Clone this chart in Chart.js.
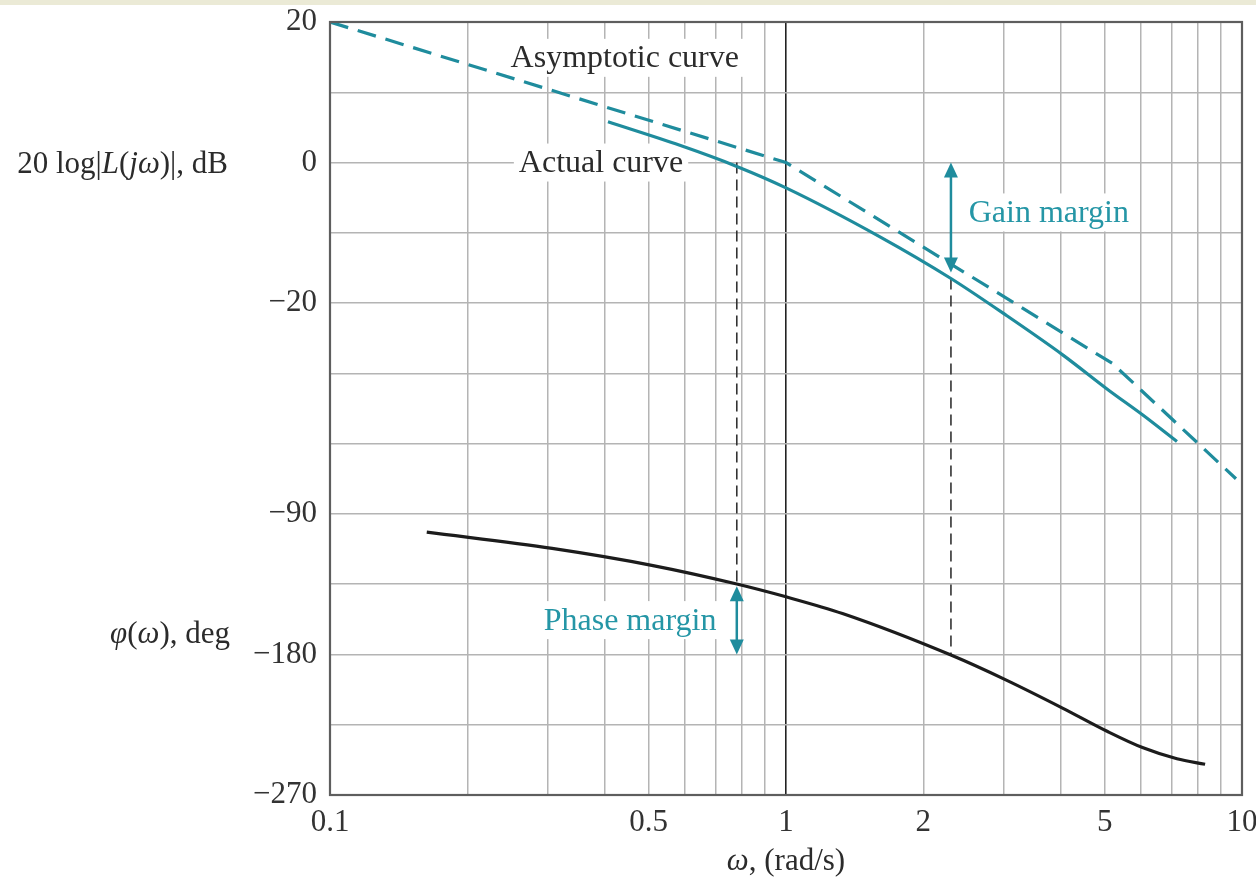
<!DOCTYPE html>
<html>
<head>
<meta charset="utf-8">
<script src="https://cdn.jsdelivr.net/npm/chart.js@4.4.1/dist/chart.umd.min.js"></script>
<style>
  html, body { margin: 0; padding: 0; background: #fff; }
  #band { position: absolute; left: 0; top: 0; width: 1256px; height: 5px; background: #ebead6; }
  #wrap { position: absolute; left: 0; top: 0; width: 1256px; height: 881px; }
</style>
</head>
<body>
<div id="wrap"><canvas id="bode" width="1256" height="881"></canvas></div>
<div id="band"></div>
<script>
// Bode diagram: magnitude (dB) and phase (deg) on one log frequency axis
const omegaAsym = [0.1, 1, 5.2, 9.7];
const dbAsym = [20, 0, -28.6, -45];

const omegaActual = [0.407, 0.585, 0.78, 1.0, 1.6, 2.3, 3.05, 4.05, 5.1, 6.05, 7.2];
const dbActual = [5.8, 2.45, -0.55, -3.6, -10.5, -16.5, -21.8, -27.4, -32.4, -35.9, -39.7];

const omegaPhase = [0.163, 0.307, 0.511, 0.78, 1.0, 1.33, 2.3, 3.05, 4.05, 5.06, 6.07, 7.2, 8.3];
const phaseDeg = [-101.7, -112.1, -123.1, -134.9, -143.1, -153.8, -180.4, -196.6, -214.5, -229.2, -239.8, -246.8, -250.3];

// tick values
const omegaTicks = [0.1, 0.2, 0.3, 0.4, 0.5, 0.6, 0.7, 0.8, 0.9, 1, 2, 3, 4, 5, 6, 7, 8, 9, 10];
const omegaLabels = [0.1, 0.5, 1, 2, 5, 10];
const dbGrid = [20, 10, 0, -10, -20, -30, -40, -50, -60, -70, -80, -90];
const dbLabels = [20, 0, -20];
const phaseLabels = [-90, -180, -270];

// margins
const gainCross = 0.78;     // rad/s, |L| = 0 dB
const phaseAtGainCross = -135;
const phaseCross = 2.3;     // rad/s, phase = -180
const gainAtPhaseCross = -16.5;

const DB_MIN = -90, DB_MAX = 20;
const PH_MIN = -270, PH_MAX = 225;

const teal = "#1f8c9d";
const tealText = "#2596a6";
const ink = "#2b2b2b";
const gridGray = "#b4b4b4";
const serif = "'Liberation Serif', 'Times New Roman', serif";

const fmt = (v) => (v < 0 ? "\u2212" + Math.abs(v) : String(v));
const dbToPhase = (v) => Math.round(PH_MIN + (v - DB_MIN) * (PH_MAX - PH_MIN) / (DB_MAX - DB_MIN));

const notes = [
  { text: "Asymptotic curve", w: 0.443, db: 14.9, color: ink },
  { text: "Actual curve", w: 0.393, db: 0, color: ink },
  { text: "Gain margin", w: 3.77, db: -7.1, color: tealText },
  { text: "Phase margin", w: 0.455, phase: -158, color: tealText },
];

function drawRich(ctx, parts, xRight, yMid, size) {
  let total = 0;
  parts.forEach((p) => {
    ctx.font = (p.it ? "italic " : "") + size + "px " + serif;
    p.width = ctx.measureText(p.t).width;
    total += p.width;
  });
  let x = xRight - total;
  ctx.textAlign = "left";
  ctx.textBaseline = "middle";
  parts.forEach((p) => {
    ctx.font = (p.it ? "italic " : "") + size + "px " + serif;
    ctx.fillText(p.t, x, yMid);
    x += p.width;
  });
}

function drawArrow(ctx, x, y1, y2) {
  const head = 15, half = 7;
  ctx.save();
  ctx.strokeStyle = teal;
  ctx.fillStyle = teal;
  ctx.lineWidth = 2.5;
  ctx.beginPath();
  ctx.moveTo(x, y1 + head - 2);
  ctx.lineTo(x, y2 - head + 2);
  ctx.stroke();
  ctx.beginPath();
  ctx.moveTo(x, y1);
  ctx.lineTo(x - half, y1 + head);
  ctx.lineTo(x + half, y1 + head);
  ctx.closePath();
  ctx.fill();
  ctx.beginPath();
  ctx.moveTo(x, y2);
  ctx.lineTo(x - half, y2 - head);
  ctx.lineTo(x + half, y2 - head);
  ctx.closePath();
  ctx.fill();
  ctx.restore();
}

const bodeNotes = {
  id: "bodeNotes",
  beforeDatasetsDraw(chart) {
    const { ctx, scales } = chart;
    const x = scales.x, y = scales.y, yp = scales.yPhase;
    ctx.save();
    // dashed construction lines
    ctx.strokeStyle = "#333";
    ctx.lineWidth = 1.6;
    ctx.setLineDash([11, 6]);
    ctx.beginPath();
    ctx.moveTo(x.getPixelForValue(gainCross), y.getPixelForValue(0));
    ctx.lineTo(x.getPixelForValue(gainCross), yp.getPixelForValue(phaseAtGainCross));
    ctx.moveTo(x.getPixelForValue(phaseCross), y.getPixelForValue(gainAtPhaseCross));
    ctx.lineTo(x.getPixelForValue(phaseCross), yp.getPixelForValue(-180));
    ctx.stroke();
    ctx.setLineDash([]);
    // text labels on white boxes
    ctx.font = "32px " + serif;
    ctx.textAlign = "center";
    ctx.textBaseline = "middle";
    notes.forEach((n) => {
      const px = x.getPixelForValue(n.w);
      const py = n.phase !== undefined ? yp.getPixelForValue(n.phase) : y.getPixelForValue(n.db);
      const w = ctx.measureText(n.text).width;
      ctx.fillStyle = "#fff";
      ctx.fillRect(px - w / 2 - 5, py - 19, w + 10, 38);
      ctx.fillStyle = n.color;
      ctx.fillText(n.text, px, py + 1);
    });
    ctx.restore();
  },
  afterDatasetsDraw(chart) {
    const { ctx, scales, chartArea } = chart;
    const x = scales.x, y = scales.y, yp = scales.yPhase;
    drawArrow(ctx, x.getPixelForValue(phaseCross), y.getPixelForValue(0), y.getPixelForValue(gainAtPhaseCross) - 6);
    drawArrow(ctx, x.getPixelForValue(gainCross), yp.getPixelForValue(phaseAtGainCross) + 2, yp.getPixelForValue(-180));
    // frame
    ctx.save();
    ctx.strokeStyle = "#5e5e5e";
    ctx.lineWidth = 2.2;
    ctx.strokeRect(chartArea.left, chartArea.top, chartArea.right - chartArea.left, chartArea.bottom - chartArea.top);
    ctx.restore();
  },
  afterDraw(chart) {
    const { ctx, scales, chartArea } = chart;
    ctx.save();
    ctx.fillStyle = ink;
    drawRich(ctx, [
      { t: "20 log|" }, { t: "L", it: true }, { t: "(" }, { t: "j\u03c9", it: true }, { t: ")|, dB" }
    ], 228, scales.y.getPixelForValue(0) + 2, 31);
    drawRich(ctx, [
      { t: "\u03c6", it: true }, { t: "(" }, { t: "\u03c9", it: true }, { t: "), deg" }
    ], 230, scales.yPhase.getPixelForValue(-167.5), 31);
    const xc = (chartArea.left + chartArea.right) / 2;
    ctx.font = "italic 31px " + serif;
    const w1 = ctx.measureText("\u03c9").width;
    ctx.font = "31px " + serif;
    const w2 = ctx.measureText(", (rad/s)").width;
    drawRich(ctx, [{ t: "\u03c9", it: true }, { t: ", (rad/s)" }], xc + (w1 + w2) / 2, 862, 31);
    ctx.restore();
  },
};

const toPoints = (xs, ys) => xs.map((v, i) => ({ x: v, y: ys[i] }));

new Chart(document.getElementById("bode"), {
  type: "line",
  data: {
    datasets: [
      {
        label: "Asymptotic curve",
        data: toPoints(omegaAsym, dbAsym),
        borderColor: teal,
        borderWidth: 3.2,
        borderDash: [19, 10],
        pointRadius: 0,
        tension: 0,
        yAxisID: "y",
      },
      {
        label: "Actual curve",
        data: toPoints(omegaActual, dbActual),
        borderColor: teal,
        borderWidth: 3.2,
        pointRadius: 0,
        cubicInterpolationMode: "monotone",
        yAxisID: "y",
      },
      {
        label: "Phase",
        data: toPoints(omegaPhase, phaseDeg),
        borderColor: "#1c1c1c",
        borderWidth: 3.2,
        pointRadius: 0,
        cubicInterpolationMode: "monotone",
        yAxisID: "yPhase",
      },
    ],
  },
  options: {
    responsive: false,
    animation: false,
    devicePixelRatio: 1,
    layout: { padding: { left: 0, right: 14, top: 22, bottom: 0 } },
    plugins: { legend: { display: false }, tooltip: { enabled: false } },
    scales: {
      x: {
        type: "logarithmic",
        min: 0.1,
        max: 10,
        afterBuildTicks: (scale) => { scale.ticks = omegaTicks.map((v) => ({ value: v })); },
        afterFit: (scale) => {
          scale.height = 86;
          scale.paddingLeft = 0;
          scale.paddingRight = 0;
        },
        ticks: {
          autoSkip: false,
          maxRotation: 0,
          padding: 9,
          color: "#333",
          font: { family: serif, size: 31 },
          callback: (v) => (omegaLabels.includes(v) ? String(v) : ""),
        },
        grid: {
          drawTicks: false,
          color: (c) => (c.tick && c.tick.value === 1 ? "#222" : gridGray),
          lineWidth: (c) => (c.tick && c.tick.value === 1 ? 1.6 : 1.5),
        },
        border: { display: false },
      },
      y: {
        type: "linear",
        position: "left",
        min: DB_MIN,
        max: DB_MAX,
        afterBuildTicks: (scale) => { scale.ticks = dbGrid.map((v) => ({ value: v })); },
        afterFit: (scale) => {
          scale.width = 330;
          scale.paddingTop = 0;
          scale.paddingBottom = 0;
        },
        ticks: {
          padding: 13,
          color: "#333",
          font: { family: serif, size: 31 },
          callback: (v) => {
            if (dbLabels.includes(v)) return fmt(v);
            const p = dbToPhase(v);
            return phaseLabels.includes(p) ? fmt(p) : "";
          },
        },
        grid: { drawTicks: false, color: gridGray, lineWidth: 1.5 },
        border: { display: false },
      },
      yPhase: {
        type: "linear",
        position: "left",
        display: false,
        min: PH_MIN,
        max: PH_MAX,
      },
    },
  },
  plugins: [bodeNotes],
});
</script>
</body>
</html>
